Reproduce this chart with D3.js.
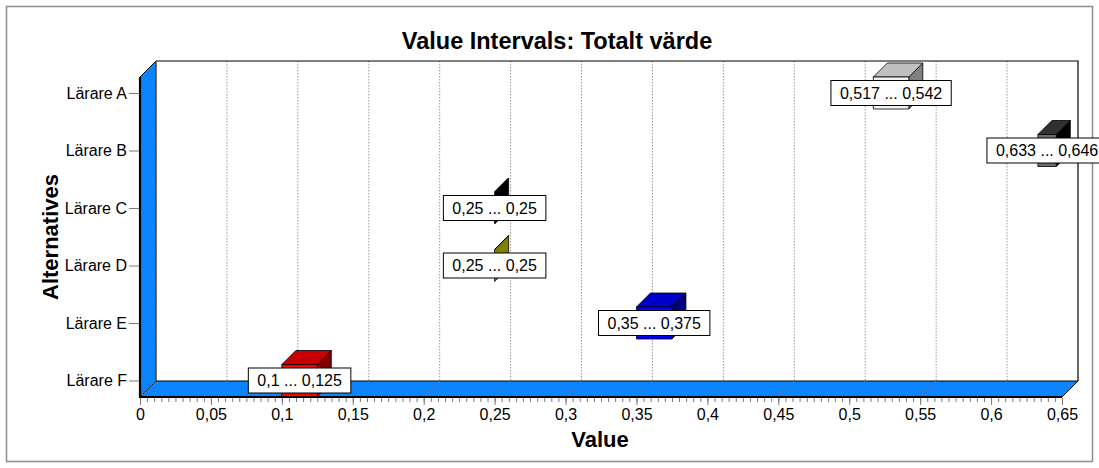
<!DOCTYPE html>
<html>
<head>
<meta charset="utf-8">
<script src="https://cdn.jsdelivr.net/npm/d3@7/dist/d3.min.js"></script>
<style>
  html, body { margin: 0; padding: 0; background: #fff; }
  svg { display: block; font-family: Arial, "Liberation Sans", sans-serif; }
</style>
</head>
<body>
<svg id="chart" width="1099" height="468"></svg>
<script>
// Alternatives and their value intervals (low ... high)
const categories = ["Lärare A", "Lärare B", "Lärare C", "Lärare D", "Lärare E", "Lärare F"];
const lows  = [0.517, 0.633, 0.25, 0.25, 0.35, 0.1];
const highs = [0.542, 0.646, 0.25, 0.25, 0.375, 0.125];

// Face colours of each interval box
const frontColors = ["#f4f4f4", "#6e6e6e", "#000000", "#a0a000", "#0000ff", "#ff0000"];
const topColors   = ["#c0c0c0", "#303030", "#000000", "#808000", "#0000c8", "#c80000"];
const sideColors  = ["#808080", "#000000", "#000000", "#808000", "#000080", "#800000"];

const xTicks = [0, 0.05, 0.1, 0.15, 0.2, 0.25, 0.3, 0.35, 0.4, 0.45, 0.5, 0.55, 0.6, 0.65];
const xDomain = [0, 0.65];

const svg = d3.select("#chart");
const W = 1099, H = 468;

// Plot geometry (front plane plus a receding depth)
const left = 140, right = 1062, frontTop = 77, frontBottom = 397;
const depth = 16;
const barDepth = 14, barHeight = 32;

const x = d3.scaleLinear().domain(xDomain).range([left, right]);
const y = d3.scalePoint().domain(categories).range([93, 380.5]);

const comma = v => String(v).replace(".", ",");

// Outer frame
svg.append("rect")
  .attr("x", 6.5).attr("y", 6.5).attr("width", W - 13).attr("height", H - 13)
  .attr("fill", "#fff").attr("stroke", "#8c8c8c").attr("stroke-width", 1.5);

// Back wall
const backL = left + depth, backR = right + depth, backT = frontTop - depth, backB = frontBottom - depth;
svg.append("rect")
  .attr("x", backL).attr("y", backT).attr("width", backR - backL).attr("height", backB - backT)
  .attr("fill", "#fff");

// Grid lines on back wall
svg.append("g").selectAll("line")
  .data(xTicks.slice(0, -1))
  .join("line")
  .attr("x1", d => x(d) + depth).attr("x2", d => x(d) + depth)
  .attr("y1", backT).attr("y2", backB)
  .attr("stroke", "#9a9a9a").attr("stroke-dasharray", "1.5,1.5").attr("stroke-width", 1);

// Back wall frame (top and right)
svg.append("path")
  .attr("d", `M${backL},${backT}H${backR}V${backB}`)
  .attr("fill", "none").attr("stroke", "#000").attr("stroke-width", 1.2);

// Left wall
svg.append("path")
  .attr("d", `M${left},${frontTop}L${backL},${backT}L${backL},${backB}L${left},${frontBottom}Z`)
  .attr("fill", "#0a84ff").attr("stroke", "#000").attr("stroke-width", 1);
svg.append("line")
  .attr("x1", backL).attr("x2", backL).attr("y1", backT).attr("y2", backB)
  .attr("stroke", "#9a7a40").attr("stroke-dasharray", "1.5,1.5");

// Floor
svg.append("path")
  .attr("d", `M${left},${frontBottom}L${backL},${backB}L${backR},${backB}L${right},${frontBottom}Z`)
  .attr("fill", "#0a84ff").attr("stroke", "#000").attr("stroke-width", 1);

// Receding grid lines across the floor
svg.append("g").selectAll("line")
  .data(xTicks.slice(0, -1))
  .join("line")
  .attr("x1", d => x(d)).attr("y1", frontBottom)
  .attr("x2", d => x(d) + depth).attr("y2", backB)
  .attr("stroke", "#7a7a7a").attr("stroke-dasharray", "1.5,1.5");

// Bold front edges
svg.append("path")
  .attr("d", `M${left},${frontTop}V${frontBottom}H${right}`)
  .attr("fill", "none").attr("stroke", "#000").attr("stroke-width", 2.2);

// Interval boxes
const bars = svg.append("g");
categories.forEach((c, i) => {
  const x0 = x(lows[i]), x1 = x(highs[i]);
  const yc = y(c);
  const top = yc - barHeight / 2, bot = yc + barHeight / 2;
  const d = barDepth;
  const g = bars.append("g").attr("stroke", "#000").attr("stroke-width", 0.8).attr("stroke-linejoin", "round");
  g.append("path")
    .attr("d", `M${x1},${top}L${x1 + d},${top - d}L${x1 + d},${bot - d}L${x1},${bot}Z`)
    .attr("fill", sideColors[i]);
  g.append("path")
    .attr("d", `M${x0},${top}L${x0 + d},${top - d}L${x1 + d},${top - d}L${x1},${top}Z`)
    .attr("fill", topColors[i]);
  g.append("rect")
    .attr("x", x0).attr("y", top).attr("width", Math.max(0, x1 - x0)).attr("height", barHeight)
    .attr("fill", frontColors[i]);
});

// Interval labels
const labels = svg.append("g");
categories.forEach((c, i) => {
  const xc = (x(lows[i]) + x(highs[i])) / 2;
  const yc = y(c);
  const g = labels.append("g").attr("transform", `translate(${xc},${yc})`);
  const box = g.append("rect").attr("fill", "#fff").attr("stroke", "#000").attr("stroke-width", 1);
  const t = g.append("text")
    .attr("text-anchor", "middle").attr("dy", "0.36em")
    .attr("font-size", 16).attr("fill", "#000")
    .text(`${comma(lows[i])} ... ${comma(highs[i])}`);
  const w = t.node().getComputedTextLength() + 18;
  box.attr("x", -w / 2).attr("y", -12.5).attr("width", w).attr("height", 25);
});

// X axis: minor and major ticks
const minorTicks = d3.range(0, 131).map(k => k * 0.005);
svg.append("g")
  .attr("transform", `translate(0,${frontBottom + 1})`)
  .call(d3.axisBottom(x).tickValues(minorTicks).tickSize(4).tickFormat(""))
  .call(g => g.select(".domain").remove())
  .call(g => g.selectAll("line").attr("stroke", "#7a7a7a"));
svg.append("g")
  .attr("transform", `translate(0,${frontBottom + 1})`)
  .call(d3.axisBottom(x).tickValues(xTicks).tickSize(7).tickPadding(4).tickFormat(comma))
  .call(g => g.select(".domain").remove())
  .call(g => g.selectAll("line").attr("stroke", "#7a7a7a"))
  .call(g => g.selectAll("text").attr("font-size", 16).attr("fill", "#000").attr("font-family", "Arial, 'Liberation Sans', sans-serif"));

// Y axis
svg.append("g")
  .attr("transform", `translate(${left - 1},0)`)
  .call(d3.axisLeft(y).tickSize(10).tickPadding(2))
  .call(g => g.select(".domain").remove())
  .call(g => g.selectAll("line").attr("stroke", "#7a7a7a"))
  .call(g => g.selectAll("text").attr("font-size", 16).attr("fill", "#000").attr("font-family", "Arial, 'Liberation Sans', sans-serif"));

// Titles
svg.append("text")
  .attr("x", 557).attr("y", 49).attr("text-anchor", "middle")
  .attr("font-size", 23.5).attr("font-weight", "bold")
  .text("Value Intervals: Totalt värde");
svg.append("text")
  .attr("x", 600).attr("y", 447).attr("text-anchor", "middle")
  .attr("font-size", 22).attr("font-weight", "bold")
  .text("Value");
svg.append("text")
  .attr("transform", "translate(58,237) rotate(-90)").attr("text-anchor", "middle")
  .attr("font-size", 22).attr("font-weight", "bold")
  .text("Alternatives");
</script>
</body>
</html>
